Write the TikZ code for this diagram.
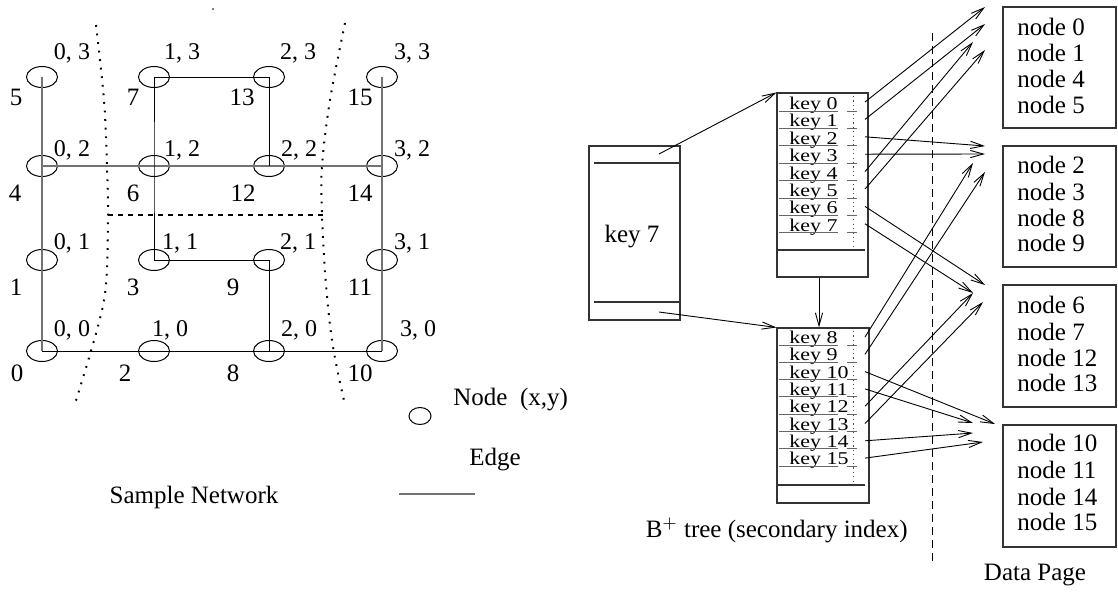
\documentclass[tikz,border=0pt]{standalone}
\usepackage{fontspec}
\setmainfont{Liberation Serif}
\usetikzlibrary{shapes.geometric,arrows.meta}
\begin{document}
\begin{tikzpicture}[x=0.5pt,y=-0.5pt,
  vert/.style={ellipse,draw=black,line width=0.5pt,minimum width=15.5pt,minimum height=10.5pt,inner sep=0pt},
  gedge/.style={draw=black!55,line width=0.65pt},
  bedge/.style={draw=black,line width=0.5pt},
  idlab/.style={font=\fontsize{12.5}{14}\selectfont,inner sep=0pt},
  colab/.style={font=\fontsize{12}{14}\selectfont,inner sep=0pt},
  txt/.style={font=\fontsize{12.5}{15}\selectfont,inner sep=0pt},
  keytxt/.style={font=\fontsize{9}{10}\selectfont,inner sep=0pt,anchor=base west},
  dotline/.style={draw=black,line width=1pt,dash pattern=on 0.9pt off 3.4pt},
  dashline/.style={draw=black,line width=0.6pt,dash pattern=on 2.5pt off 2.5pt},
  pgline/.style={draw=black,line width=0.5pt,dash pattern=on 4pt off 2.5pt},
  box/.style={draw=black!80,line width=0.55pt,inner sep=0pt},
  sepl/.style={draw=black!60,line width=0.5pt},
  fdot/.style={draw=black!70,line width=0.5pt,dash pattern=on 0.6pt off 1.6pt},
  ptr/.style={draw=black,line width=0.45pt,-{Straight Barb[length=6.5pt,width=3.6pt]}}
]
\useasboundingbox (0,0) rectangle (1118,591);

% ---------------- sample network ----------------
\node[vert] (v5)  at (42,77) {};
\node[vert] (v7)  at (154,77) {};
\node[vert] (v13) at (269,77) {};
\node[vert] (v15) at (382,77) {};
\node[vert] (v4)  at (42,166) {};
\node[vert] (v6)  at (154,166) {};
\node[vert] (v12) at (269,166) {};
\node[vert] (v14) at (382,166) {};
\node[vert] (v1)  at (42,260) {};
\node[vert] (v3)  at (154,260) {};
\node[vert] (v9)  at (269,260) {};
\node[vert] (v11) at (382,260) {};
\node[vert] (v0)  at (42,351) {};
\node[vert] (v2)  at (154,351) {};
\node[vert] (v8)  at (269,351) {};
\node[vert] (v10) at (382,351) {};

\draw[gedge] (v5.center) -- (v4.center) -- (v1.center) -- (v0.center);
\draw[gedge] (v15.center) -- (v14.center) -- (v11.center) -- (v10.center);
\draw[gedge] (v4.center) -- (v6.center) -- (v12.center) -- (v14.center);
\draw[bedge] (v7.center) -- (v13.center) -- (v12.center);
\draw[bedge] (v7.center) -- (v6.center) -- (v3.center) -- (v9.center) -- (v8.center);
\draw[bedge] (v0.center) -- (v2.center) -- (v8.center) -- (v10.center);

% node ids
\node[idlab] (l5)  at (16,97) {5};
\node[idlab] (l7)  at (133,97) {7};
\node[idlab] (l13) at (242,97) {13};
\node[idlab] (l15) at (360,97) {15};
\node[idlab] (l4)  at (15,193) {4};
\node[idlab] (l6)  at (133,193) {6};
\node[idlab] (l12) at (243,193) {12};
\node[idlab] (l14) at (360,193) {14};
\node[idlab] (l1)  at (16,287) {1};
\node[idlab] (l3)  at (133,287) {3};
\node[idlab] (l9)  at (233,287) {9};
\node[idlab] (l11) at (360,287) {11};
\node[idlab] (l0)  at (17,373) {0};
\node[idlab] (l2)  at (125,373) {2};
\node[idlab] (l8)  at (233,373) {8};
\node[idlab] (l10) at (360,373) {10};

% coordinates
\node[colab] (c03) at (72,53) {0, 3};
\node[colab] (c13) at (182,53) {1, 3};
\node[colab] (c23) at (298,53) {2, 3};
\node[colab] (c33) at (412,53) {3, 3};
\node[colab] (c02) at (72,150) {0, 2};
\node[colab] (c12) at (182,150) {1, 2};
\node[colab] (c22) at (299,150) {2, 2};
\node[colab] (c32) at (412,150) {3, 2};
\node[colab] (c01) at (72,243) {0, 1};
\node[colab] (c11) at (180,243) {1, 1};
\node[colab] (c21) at (298,243) {2, 1};
\node[colab] (c31) at (412,243) {3, 1};
\node[colab] (c00) at (72,330) {0, 0};
\node[colab] (c10) at (170,330) {1, 0};
\node[colab] (c20) at (299,330) {2, 0};
\node[colab] (c30) at (418,330) {3, 0};

% partition lines
\draw[dotline] plot[smooth,tension=0.55] coordinates {(96,25) (104,100) (107,166) (108,215) (106,285) (97,330) (74,407)};
\draw[dotline] plot[smooth,tension=0.55] coordinates {(345,23) (330,100) (322,166) (322,215) (326,285) (333,347) (345,405)};
\draw[dashline] (108,215) -- (326,215);
\fill (213,9) circle[radius=0.45pt];

% legend
\node[vert,minimum width=11pt,minimum height=8.5pt] (lg) at (420,416) {};
\node[txt,anchor=west] (lgn) at (453,400) {Node\enspace(x,y)};
\node[txt] (lge) at (495,460) {Edge};
\coordinate (le1) at (399,494);
\coordinate (le2) at (475,494);
\draw[gedge] (le1) -- (le2);
\node[txt] (sn) at (194,497) {Sample Network};

% ---------------- B+ tree ----------------
\node[box,minimum width=45.5pt,minimum height=87pt] (root) at (634.5,233) {};
\draw[box] (594,163) -- (root.east |- 0,163);
\draw[box] (594,302) -- (root.east |- 0,302);
\node[txt] (rk) at (632,237) {key 7};
\coordinate (r1) at (659,154);
\coordinate (r2) at (659,312);

\node[box,minimum width=45.5pt,minimum height=92pt] (leafA) at (822.5,185) {};
\draw[box] (777,250) -- (865,250);
\draw[fdot] (853,96) -- (853,246);
\foreach \i in {0,...,7}{
  \pgfmathsetmacro\ub{111+17.4*\i}
  \node[keytxt] (k\i) at (789,\ub-1.5) {\scalebox{1.22}[1]{key \i}};
  \draw[sepl] (779,\ub) -- (838,\ub) (847,\ub) -- (857,\ub);
  \coordinate (s\i) at (865,\ub-9);
}

\node[box,minimum width=46pt,minimum height=87.5pt] (leafB) at (823,415.5) {};
\draw[box] (777,485) -- (865,485);
\draw[fdot] (853,331) -- (853,483);
\foreach \i in {8,...,15}{
  \pgfmathsetmacro\ub{345+17.3*(\i-8)}
  \node[keytxt] (k\i) at (789,\ub-1.5) {\scalebox{1.22}[1]{key \i}};
  \draw[sepl] (779,\ub) -- (838,\ub) (847,\ub) -- (857,\ub);
  \coordinate (s\i) at (865,\ub-8);
}

\draw[ptr] (r1) -- (leafA.north west);
\draw[ptr] (r2) -- (leafB.north west);
\draw[ptr] (leafA.south -| 819,0) -- (leafB.north -| 819,0);

\node[txt,anchor=east] (bt) at (908,530) {B$^{+}$ tree (secondary index)};

% ---------------- data pages ----------------
\draw[pgline] (932,33) -- (932,565);

\node[box,minimum width=56.5pt,minimum height=60.5pt] (p1) at (1059.5,67.5) {};
\node[box,minimum width=56.5pt,minimum height=60.5pt] (p2) at (1059.5,206.5) {};
\node[box,minimum width=56.5pt,minimum height=61pt] (p3) at (1059.5,346) {};
\node[box,minimum width=56.5pt,minimum height=61pt] (p4) at (1059.5,486) {};

\node[txt,anchor=west] (n0) at (1017,27) {node 0};
\node[txt,anchor=west] (n1) at (1017,53) {node 1};
\node[txt,anchor=west] (n4) at (1017,79) {node 4};
\node[txt,anchor=west] (n5) at (1017,105) {node 5};
\node[txt,anchor=west] (n2) at (1017,165) {node 2};
\node[txt,anchor=west] (n3) at (1017,192) {node 3};
\node[txt,anchor=west] (n8) at (1017,218) {node 8};
\node[txt,anchor=west] (n9) at (1017,243) {node 9};
\node[txt,anchor=west] (n6) at (1017,305) {node 6};
\node[txt,anchor=west] (n7) at (1017,332) {node 7};
\node[txt,anchor=west] (n12) at (1017,358) {node 12};
\node[txt,anchor=west] (n13) at (1017,383) {node 13};
\node[txt,anchor=west] (n10) at (1017,443) {node 10};
\node[txt,anchor=west] (n11) at (1017,470) {node 11};
\node[txt,anchor=west] (n14) at (1017,497) {node 14};
\node[txt,anchor=west] (n15) at (1017,522) {node 15};
\node[txt] (dp) at (1035,575) {Data Page};

% arrow targets
\coordinate (t0) at (985,7);
\coordinate (t1) at (985,24);
\coordinate (t2) at (985,146);
\coordinate (t3) at (985,154);
\coordinate (t4) at (973,42);
\coordinate (t5) at (985,50);
\coordinate (t6) at (985,285);
\coordinate (t7) at (973,293);
\coordinate (t8) at (973,163);
\coordinate (t9) at (985,172);
\coordinate (t10) at (995,424);
\coordinate (t11) at (973,423);
\coordinate (t12) at (973,293);
\coordinate (t13) at (983,302);
\coordinate (t14) at (973,433);
\coordinate (t15) at (983,442);
\foreach \i in {0,...,15}{ \draw[ptr] (s\i) -- (t\i); }
\end{tikzpicture}
\end{document}
